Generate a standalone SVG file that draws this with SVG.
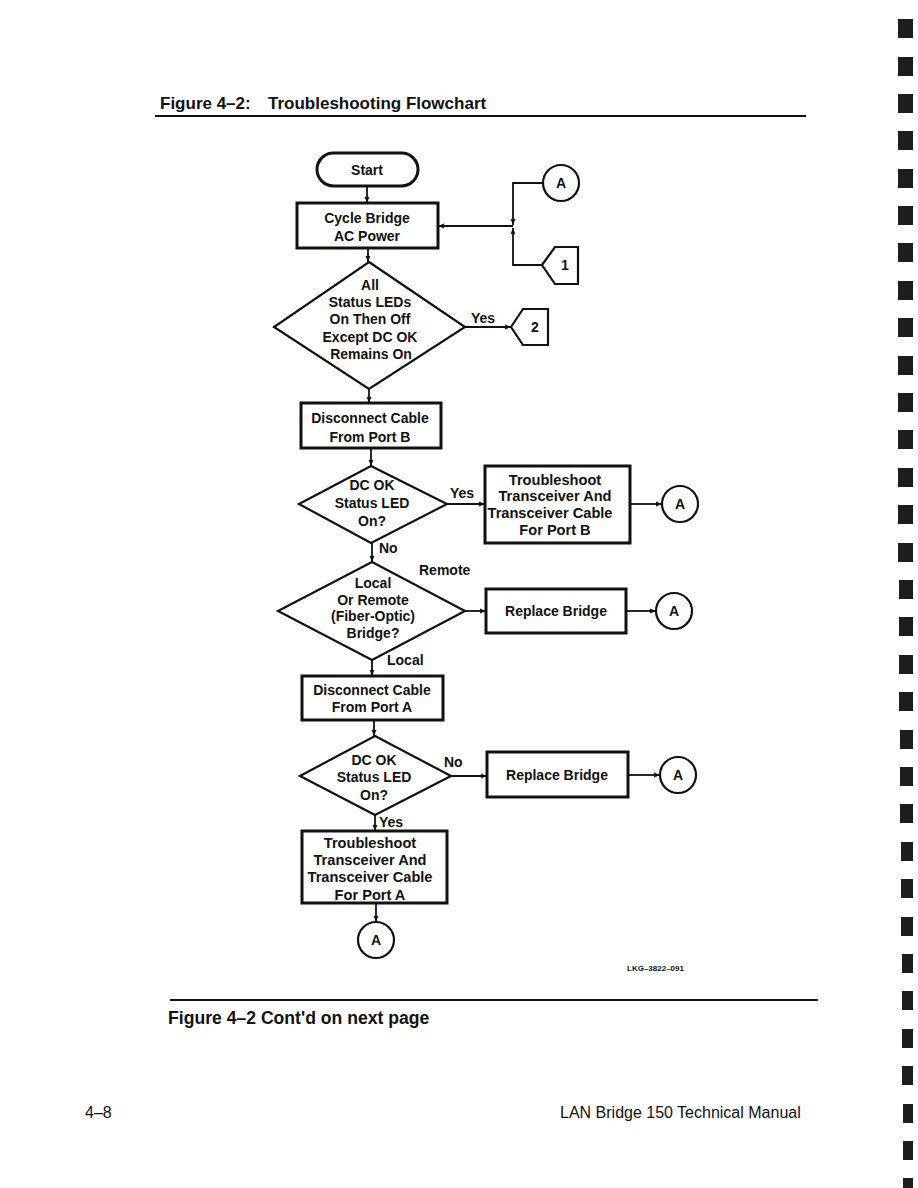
<svg xmlns="http://www.w3.org/2000/svg" width="918" height="1188" viewBox="0 0 918 1188">
<defs>
<style>
.t{font-family:"Liberation Sans",Arial,sans-serif;font-weight:bold;font-size:14px;fill:#111;text-anchor:middle}
.tw{font-size:14.6px}
.l{font-family:"Liberation Sans",Arial,sans-serif;font-weight:bold;font-size:14px;fill:#111}
.box{fill:#fff;stroke:#111;stroke-width:3}
.dia{fill:#fff;stroke:#111;stroke-width:2.2}
.cir{fill:#fff;stroke:#111;stroke-width:2.2}
.con{fill:none;stroke:#111;stroke-width:1.8}
.mark{fill:#1e1e1e}
</style>
<marker id="ah" viewBox="0 0 10 10" refX="10" refY="5" markerWidth="6" markerHeight="6" orient="auto" markerUnits="userSpaceOnUse">
<path d="M0,1 L10,5 L0,9 z" fill="#111"/>
</marker>
</defs>
<rect width="918" height="1188" fill="#fff"/>

<g id="header">
<text x="160" y="109" style="font-family:'Liberation Sans',Arial,sans-serif;font-weight:bold;font-size:17px;fill:#111">Figure 4–2:<tspan x="268">Troubleshooting Flowchart</tspan></text>
<line x1="155" y1="116" x2="806" y2="116" stroke="#111" stroke-width="2.2"/>
</g>

<g id="connectors">
<line class="con" x1="367" y1="187" x2="367" y2="203" marker-end="url(#ah)"/>
<polyline class="con" points="543,183 513,183 513,225" marker-end="url(#ah)"/>
<polyline class="con" points="542,265 513,265 513,228" marker-end="url(#ah)"/>
<line class="con" x1="513" y1="226" x2="438" y2="226" marker-end="url(#ah)"/>
<line class="con" x1="368" y1="248" x2="368" y2="262" marker-end="url(#ah)"/>
<line class="con" x1="465" y1="327" x2="511" y2="327" marker-end="url(#ah)"/>
<line class="con" x1="369" y1="389" x2="369" y2="403" marker-end="url(#ah)"/>
<line class="con" x1="371" y1="448" x2="371" y2="466" marker-end="url(#ah)"/>
<line class="con" x1="447" y1="504" x2="485" y2="504" marker-end="url(#ah)"/>
<line class="con" x1="630" y1="504" x2="662" y2="504" marker-end="url(#ah)"/>
<line class="con" x1="372" y1="543" x2="372" y2="562" marker-end="url(#ah)"/>
<line class="con" x1="465" y1="611" x2="486" y2="611" marker-end="url(#ah)"/>
<line class="con" x1="626" y1="611" x2="656" y2="611" marker-end="url(#ah)"/>
<line class="con" x1="372" y1="660" x2="372" y2="676" marker-end="url(#ah)"/>
<line class="con" x1="374" y1="720" x2="374" y2="736" marker-end="url(#ah)"/>
<line class="con" x1="451" y1="776" x2="487" y2="776" marker-end="url(#ah)"/>
<line class="con" x1="628" y1="775" x2="660" y2="775" marker-end="url(#ah)"/>
<line class="con" x1="375" y1="815" x2="375" y2="831" marker-end="url(#ah)"/>
<line class="con" x1="376" y1="903" x2="376" y2="922" marker-end="url(#ah)"/>
<text class="l" x="471" y="323">Yes</text>
<text class="l" x="450" y="498">Yes</text>
<text class="l" x="379" y="553">No</text>
<text class="l" x="419" y="575">Remote</text>
<text class="l" x="387" y="665">Local</text>
<text class="l" x="444" y="767">No</text>
<text class="l" x="379" y="827">Yes</text>
</g>

<g id="start">
<rect class="box" x="317" y="153" width="101" height="33" rx="16.5"/>
<text class="t" x="367" y="175">Start</text>
</g>

<g id="cycle-power">
<rect class="box" x="297" y="203" width="141" height="45"/>
<text class="t" x="367" y="223">Cycle Bridge</text>
<text class="t" x="367" y="241">AC Power</text>
</g>

<g id="conn-a-top">
<circle class="cir" cx="561" cy="183" r="18"/>
<text class="t" x="561" y="188" font-size="13">A</text>
</g>

<g id="offpage-1">
<polygon class="dia" points="542,265 555,247 578,247 578,284 555,284"/>
<text class="t" x="565" y="270">1</text>
</g>

<g id="led-check">
<polygon class="dia" points="369,262 465,327 369,389 274,327"/>
<text class="t" x="370" y="290">All</text>
<text class="t" x="370" y="307">Status LEDs</text>
<text class="t" x="370" y="324">On Then Off</text>
<text class="t" x="370" y="342">Except DC OK</text>
<text class="t" x="371" y="359">Remains On</text>
</g>

<g id="offpage-2">
<polygon class="dia" points="511,327 523,309 548,309 548,345 523,345"/>
<text class="t" x="535" y="332">2</text>
</g>

<g id="disconnect-b">
<rect class="box" x="301" y="403" width="140" height="45"/>
<text class="t" x="370" y="423">Disconnect Cable</text>
<text class="t" x="370" y="442">From Port B</text>
</g>

<g id="dcok-b">
<polygon class="dia" points="371,466 447,504 371,543 299,504"/>
<text class="t" x="372" y="490">DC OK</text>
<text class="t" x="372" y="508">Status LED</text>
<text class="t" x="372" y="526">On?</text>
</g>

<g id="troubleshoot-b">
<rect class="box" x="485" y="466" width="145" height="77"/>
<text class="t tw" x="555" y="485">Troubleshoot</text>
<text class="t tw" x="555" y="501">Transceiver And</text>
<text class="t tw" x="550" y="518">Transceiver Cable</text>
<text class="t tw" x="555" y="535">For Port B</text>
</g>

<g id="conn-a-b">
<circle class="cir" cx="680" cy="504" r="18"/>
<text class="t" x="680" y="509" font-size="13">A</text>
</g>

<g id="local-remote">
<polygon class="dia" points="372,562 465,611 372,660 278,611"/>
<text class="t" x="373" y="588">Local</text>
<text class="t" x="373" y="605">Or Remote</text>
<text class="t" x="373" y="621">(Fiber-Optic)</text>
<text class="t" x="373" y="638">Bridge?</text>
</g>

<g id="replace-1">
<rect class="box" x="486" y="589" width="140" height="44"/>
<text class="t" x="556" y="616">Replace Bridge</text>
</g>

<g id="conn-a-r1">
<circle class="cir" cx="674" cy="611" r="18"/>
<text class="t" x="674" y="616" font-size="13">A</text>
</g>

<g id="disconnect-a">
<rect class="box" x="302" y="676" width="141" height="44"/>
<text class="t" x="372" y="695">Disconnect Cable</text>
<text class="t" x="372" y="712">From Port A</text>
</g>

<g id="dcok-a">
<polygon class="dia" points="375,736 451,776 375,815 300,776"/>
<text class="t" x="374" y="765">DC OK</text>
<text class="t" x="374" y="782">Status LED</text>
<text class="t" x="374" y="800">On?</text>
</g>

<g id="replace-2">
<rect class="box" x="487" y="752" width="141" height="45"/>
<text class="t" x="557" y="780">Replace Bridge</text>
</g>

<g id="conn-a-r2">
<circle class="cir" cx="678" cy="775" r="18"/>
<text class="t" x="678" y="780" font-size="13">A</text>
</g>

<g id="troubleshoot-a">
<rect class="box" x="302" y="831" width="145" height="72"/>
<text class="t tw" x="370" y="848">Troubleshoot</text>
<text class="t tw" x="370" y="865">Transceiver And</text>
<text class="t tw" x="370" y="882">Transceiver Cable</text>
<text class="t tw" x="370" y="900">For Port A</text>
</g>

<g id="conn-a-end">
<circle class="cir" cx="376" cy="940" r="18"/>
<text class="t" x="376" y="945" font-size="13">A</text>
</g>

<g id="footer">
<text x="627" y="971" style="font-family:'Liberation Sans',Arial,sans-serif;font-weight:bold;font-size:8px;fill:#111">LKG–3822–091</text>
<line x1="170" y1="1000" x2="818" y2="1000" stroke="#111" stroke-width="2.2"/>
<text x="168" y="1024" style="font-family:'Liberation Sans',Arial,sans-serif;font-weight:bold;font-size:17.6px;fill:#111">Figure 4–2 Cont'd on next page</text>
<text x="85" y="1118" style="font-family:'Liberation Sans',Arial,sans-serif;font-size:16px;fill:#111">4–8</text>
<text x="560" y="1118" style="font-family:'Liberation Sans',Arial,sans-serif;font-size:16px;fill:#111">LAN Bridge 150 Technical Manual</text>
</g>

<g id="edge-marks">
<rect class="mark" x="898" y="19" width="15" height="19"/>
<rect class="mark" x="898" y="57" width="15" height="19"/>
<rect class="mark" x="898" y="94" width="15" height="19"/>
<rect class="mark" x="898" y="131" width="15" height="19"/>
<rect class="mark" x="898" y="169" width="15" height="19"/>
<rect class="mark" x="898" y="206" width="15" height="19"/>
<rect class="mark" x="898" y="243" width="15" height="19"/>
<rect class="mark" x="898" y="281" width="15" height="19"/>
<rect class="mark" x="898" y="318" width="15" height="19"/>
<rect class="mark" x="898" y="356" width="15" height="19"/>
<rect class="mark" x="898" y="393" width="15" height="19"/>
<rect class="mark" x="898" y="430" width="15" height="19"/>
<rect class="mark" x="898" y="468" width="15" height="19"/>
<rect class="mark" x="898" y="505" width="15" height="19"/>
<rect class="mark" x="898" y="543" width="15" height="19"/>
<rect class="mark" x="899" y="580" width="14" height="19"/>
<rect class="mark" x="899" y="617" width="14" height="19"/>
<rect class="mark" x="899" y="655" width="14" height="19"/>
<rect class="mark" x="899" y="692" width="14" height="19"/>
<rect class="mark" x="900" y="730" width="13" height="19"/>
<rect class="mark" x="900" y="767" width="13" height="19"/>
<rect class="mark" x="900" y="804" width="13" height="19"/>
<rect class="mark" x="901" y="842" width="12" height="19"/>
<rect class="mark" x="901" y="879" width="12" height="19"/>
<rect class="mark" x="901" y="917" width="12" height="19"/>
<rect class="mark" x="902" y="954" width="11" height="19"/>
<rect class="mark" x="902" y="991" width="11" height="19"/>
<rect class="mark" x="902" y="1029" width="11" height="19"/>
<rect class="mark" x="902" y="1066" width="11" height="19"/>
<rect class="mark" x="903" y="1104" width="10" height="19"/>
<rect class="mark" x="903" y="1141" width="10" height="19"/>
<rect class="mark" x="903" y="1178" width="10" height="19"/>
</g>
</svg>
